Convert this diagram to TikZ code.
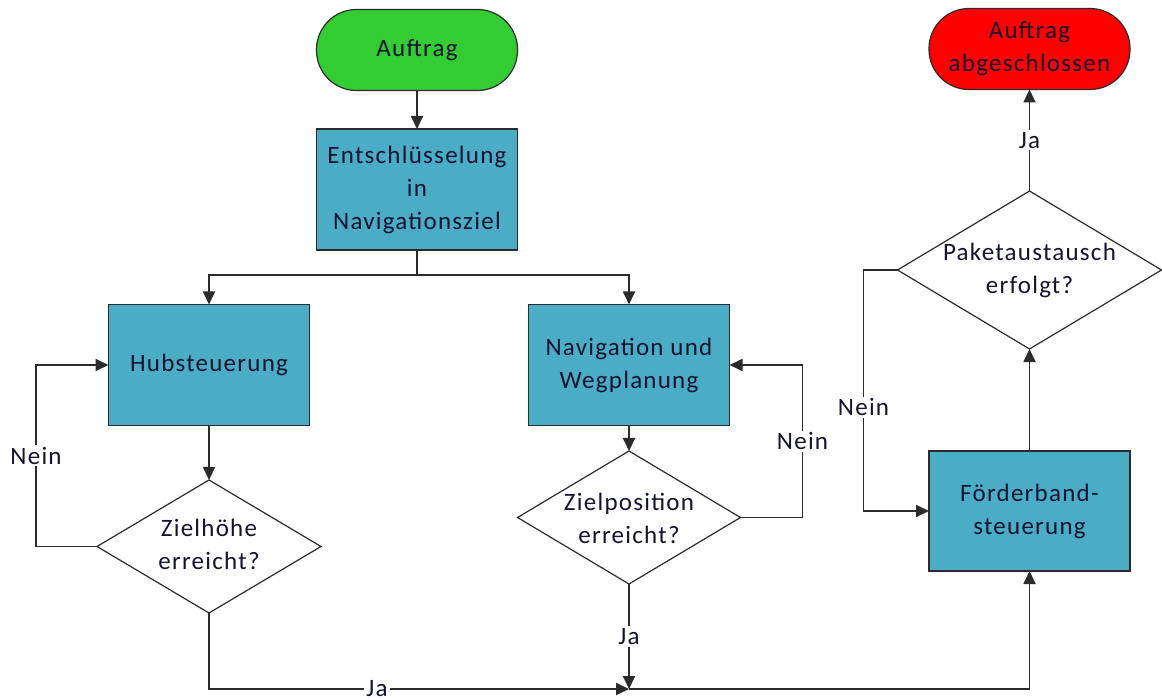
\documentclass[tikz,border=0pt]{standalone}
\usepackage{fontspec}
\setmainfont[LetterSpace=5]{Carlito}
\usetikzlibrary{arrows.meta,shapes.geometric}
\definecolor{startg}{HTML}{33CC33}
\definecolor{boxc}{HTML}{4BACC6}
\definecolor{endr}{HTML}{FF0000}
\definecolor{linec}{HTML}{2B2B2B}
\definecolor{txtc}{HTML}{141432}
\begin{document}
\begin{tikzpicture}[x=1pt,y=-1pt,
 font=\fontsize{25}{33}\selectfont,
 proc/.style={draw=linec, line width=1.6pt, fill=boxc, minimum width=201pt, minimum height=121pt, align=center, text=txtc, inner sep=0pt, outer sep=0pt},
 term/.style={draw=linec, line width=1.2pt, minimum width=201pt, minimum height=81pt, rounded corners=40pt, align=center, text=txtc, inner sep=0pt, outer sep=0pt},
 dec/.style={draw=linec, line width=1.2pt, diamond, inner sep=0pt, outer sep=0pt},
 dtext/.style={align=center, text=txtc},
 conn/.style={draw=linec, line width=1.8pt},
 arr/.style={conn, -{Triangle[length=13pt,width=12pt]}},
 lbl/.style={fill=white, text=txtc, inner sep=2pt}
]
\useasboundingbox (0,0) rectangle (1162,700);

\node[term, fill=startg] (start) at (417,50) {Auftrag};
\node[proc] (ent) at (417,189.5) {Entschlüsselung\\in\\Navigationsziel};
\node[proc] (hub) at (209,365) {Hubsteuerung};
\node[proc] (nav) at (629,365) {Navigation und\\Wegplanung};
\node[dec, minimum width=224pt, minimum height=133pt] (zh) at (209,546.5) {};
\node[dtext] (zht) at (209,544) {Zielhöhe\\erreicht?};
\node[dec, minimum width=223pt, minimum height=133pt] (zp) at (629,517.5) {};
\node[dtext] (zpt) at (629,518) {Zielposition\\erreicht?};
\node[proc, minimum height=120pt] (foe) at (1029.5,511) {Förderband-\\steuerung};
\node[dec, minimum width=264pt, minimum height=158pt] (pk) at (1029.5,270) {};
\node[dtext] (pkt) at (1029.5,270) {Paketaustausch\\erfolgt?};
\node[term, fill=endr] (end) at (1029.5,49) {Auftrag\\abgeschlossen};

\draw[arr] (start) -- (ent);
\draw[conn] (ent.south) -- ++(0,25) coordinate (j1);
\draw[arr] (j1) -| (hub.north);
\draw[arr] (j1) -| (nav.north);
\draw[arr] (hub) -- (zh);
\draw[arr] (zh.west) -- ++(-61,0) |- node[lbl,pos=0.25]{Nein} (hub.west);
\draw[arr] (nav) -- (zp);
\draw[arr] (zp.east) -- ++(62,0) |- node[lbl,pos=0.25]{Nein} (nav.east);
\coordinate (jb) at (629,689);
\draw[arr] (zh.south) |- node[lbl,pos=0.7]{Ja} (jb);
\draw[arr] (zp.south) -- node[lbl]{Ja} (jb);
\draw[arr] (jb) -| (foe.south);
\draw[arr] (foe) -- (pk);
\draw[arr] (pk.west) -- ++(-34,0) |- node[lbl,pos=0.285]{Nein} (foe.west);
\draw[arr] (pk) -- node[lbl]{Ja} (end);
\end{tikzpicture}
\end{document}
